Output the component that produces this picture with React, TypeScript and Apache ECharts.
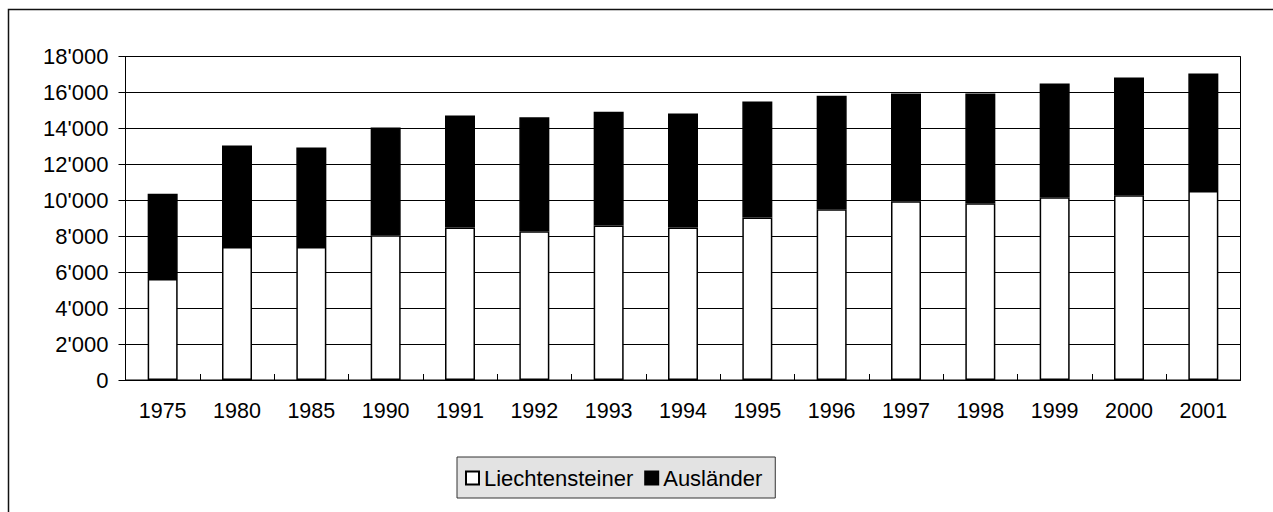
import React, { useEffect, useRef } from "react";
import * as echarts from "echarts";

const categories = ["1975", "1980", "1985", "1990", "1991", "1992", "1993", "1994", "1995", "1996", "1997", "1998", "1999", "2000", "2001"];
const liechtensteiner = [5620, 7400, 7400, 8050, 8480, 8280, 8590, 8480, 9040, 9500, 9950, 9840, 10170, 10280, 10510];
const auslaender = [4750, 5650, 5530, 6000, 6240, 6340, 6330, 6350, 6460, 6310, 5990, 6100, 6330, 6550, 6540];
const seriesNames = ["Liechtensteiner", "Ausländer"];

const FONT = "'Liberation Sans', Arial, sans-serif";

function fmt(v: number): string {
  const s = String(Math.round(v));
  return s.replace(/\B(?=(\d{3})+(?!\d))/g, "'");
}

export default function App() {
  const ref = useRef<HTMLDivElement>(null);
  useEffect(() => {
    if (!ref.current) return;
    const chart = echarts.init(ref.current, null, { renderer: "svg" });
    chart.setOption({
      animation: false,
      backgroundColor: "#ffffff",
      textStyle: { fontFamily: FONT, color: "#000" },
      graphic: [
        {
          type: "polyline",
          shape: { points: [[8.5, 600], [8.5, 9.5], [1400, 9.5]] },
          style: { fill: "none", stroke: "#111", lineWidth: 1.5 },
          silent: true,
          z: -1,
        },
      ],
      grid: {
        left: 125.5,
        right: 32.5,
        top: 56.5,
        bottom: 132,
        show: true,
        borderColor: "#000",
        borderWidth: 1,
        backgroundColor: "transparent",
      },
      legend: {
        data: seriesNames,
        left: 457,
        top: 457,
        orient: "horizontal",
        backgroundColor: "#e3e3e3",
        borderColor: "#333",
        borderWidth: 1,
        borderRadius: 0,
        padding: [10, 13, 9, 8],
        itemWidth: 13,
        itemHeight: 13,
        itemGap: 11,
        icon: "rect",
        textStyle: { fontFamily: FONT, fontSize: 22, color: "#000" },
        selectedMode: false,
      },
      xAxis: {
        type: "category",
        data: categories,
        boundaryGap: true,
        axisLine: { show: true, lineStyle: { color: "#000", width: 1 } },
        axisTick: { show: true, inside: true, length: 6, alignWithLabel: false, lineStyle: { color: "#000" } },
        axisLabel: { fontFamily: FONT, fontSize: 21.5, color: "#000", margin: 20 },
        splitLine: { show: false },
      },
      yAxis: {
        type: "value",
        min: 0,
        max: 18000,
        interval: 2000,
        axisLine: { show: true, lineStyle: { color: "#000", width: 1 } },
        axisTick: { show: true, inside: false, length: 7, lineStyle: { color: "#000" } },
        axisLabel: { fontFamily: FONT, fontSize: 22, color: "#000", margin: 17, formatter: (v: number) => fmt(v) },
        splitLine: { show: true, lineStyle: { color: "#000", width: 1 } },
      },
      series: [
        {
          name: seriesNames[0],
          type: "bar",
          stack: "total",
          data: liechtensteiner,
          barWidth: 30,
          itemStyle: { color: "#ffffff", borderColor: "#000", borderWidth: 1.5 },
        },
        {
          name: seriesNames[1],
          type: "bar",
          stack: "total",
          data: auslaender,
          barWidth: 30,
          itemStyle: { color: "#000000", borderColor: "#000", borderWidth: 1.5 },
        },
      ],
    });
    return () => chart.dispose();
  }, []);
  return <div ref={ref} style={{ position: "absolute", left: 0, top: 0, width: 1273, height: 512 }} />;
}
